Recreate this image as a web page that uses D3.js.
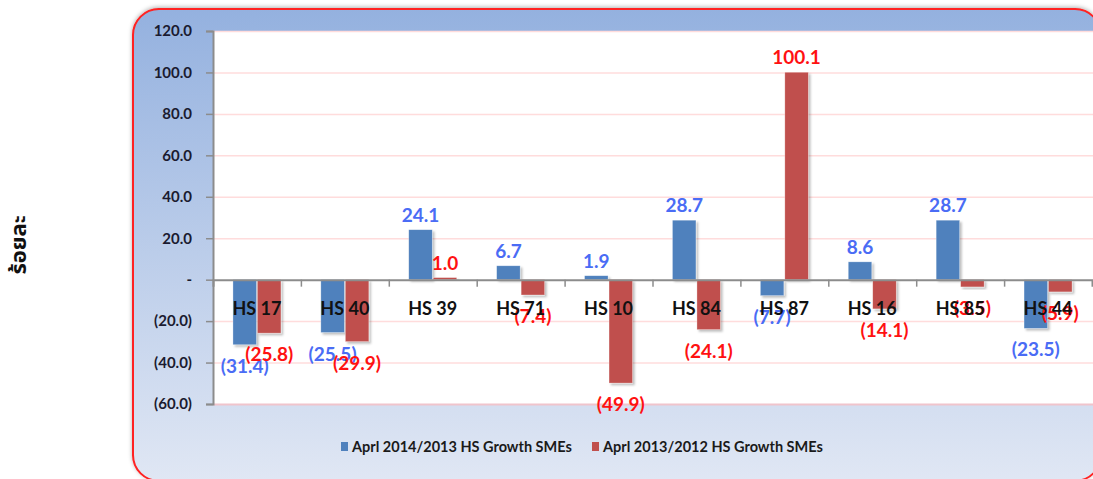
<!DOCTYPE html>
<html>
<head>
<meta charset="utf-8">
<script src="https://cdn.jsdelivr.net/npm/d3@7"></script>
<style>
  body { margin: 0; background: #fff; overflow: hidden; }
  svg { display: block; font-family: Lato, "Open Sans", sans-serif; }
</style>
</head>
<body>
<svg id="chart" width="1093" height="479"></svg>
<script>
// data
const categories = ["HS 17", "HS 40", "HS 39", "HS 71", "HS 10", "HS 84", "HS 87", "HS 16", "HS 85", "HS 44"];
const seriesNames = ["Aprl 2014/2013 HS Growth SMEs", "Aprl 2013/2012 HS Growth SMEs"];
const growth2014 = [-31.4, -25.5, 24.1, 6.7, 1.9, 28.7, -7.7, 8.6, 28.7, -23.5];
const growth2013 = [-25.8, -29.9, 1.0, -7.4, -49.9, -24.1, 100.1, -14.1, -3.5, -5.9];
const yTicks = [-60, -40, -20, 0, 20, 40, 60, 80, 100, 120];
const yTitle = "ร้อยละ";

const barColors = ["#4f81bd", "#c0504d"];
const labelColors = ["#4a6cf5", "#ff1111"];

const svg = d3.select("#chart");
const plot = { left: 213, right: 1092, top: 31, bottom: 404 };

const defs = svg.append("defs");
const grad = defs.append("linearGradient").attr("id", "bg").attr("x1", 0).attr("y1", 0).attr("x2", 0).attr("y2", 1);
grad.append("stop").attr("offset", "0%").attr("stop-color", "#94b1df");
grad.append("stop").attr("offset", "100%").attr("stop-color", "#e0e7f4");

const shadow = defs.append("filter").attr("id", "shadow").attr("x", "-20%").attr("y", "-20%").attr("width", "150%").attr("height", "150%");
shadow.append("feDropShadow").attr("dx", 2).attr("dy", 2).attr("stdDeviation", 1.2).attr("flood-color", "#000").attr("flood-opacity", 0.25);

const frameShadow = defs.append("filter").attr("id", "frameShadow").attr("x", "-5%").attr("y", "-5%").attr("width", "110%").attr("height", "110%");
frameShadow.append("feDropShadow").attr("dx", 0).attr("dy", -1).attr("stdDeviation", 2).attr("flood-color", "#000").attr("flood-opacity", 0.3);

// chart frame (runs past the right and bottom edge as in the source)
svg.append("rect")
  .attr("x", 133).attr("y", 9).attr("width", 968).attr("height", 472)
  .attr("rx", 26).attr("ry", 26)
  .attr("fill", "url(#bg)")
  .attr("stroke", "#ff2020").attr("stroke-width", 2)
  .attr("filter", "url(#frameShadow)");

// y title
svg.append("text")
  .attr("transform", "translate(26,245) rotate(-90)")
  .attr("text-anchor", "middle")
  .attr("font-family", "'Noto Sans Thai', 'Noto Sans', 'DejaVu Sans', sans-serif")
  .attr("font-size", 22).attr("font-weight", "bold").attr("fill", "#111")
  .text(yTitle);

const y = d3.scaleLinear().domain([-60, 120]).range([plot.bottom, plot.top]);
const x0 = d3.scaleBand().domain(categories).range([plot.left, plot.right]).padding(0);
const groupW = 48;
const x1 = d3.scaleBand().domain([0, 1]).range([0, groupW]).paddingInner(0.04);
const slot = d3.scaleLinear().domain([0, categories.length]).range([plot.left, plot.right]);

// plot area
svg.append("rect")
  .attr("x", plot.left).attr("y", plot.top)
  .attr("width", plot.right - plot.left + 2).attr("height", plot.bottom - plot.top)
  .attr("fill", "#fff");

// gridlines
svg.append("g").selectAll("line")
  .data(yTicks.filter((d) => d !== 0))
  .join("line")
  .attr("x1", plot.left).attr("x2", plot.right + 2)
  .attr("y1", (d) => y(d) + 0.5).attr("y2", (d) => y(d) + 0.5)
  .attr("stroke", (d) => (d === -60 ? "#f0c4cc" : "#ffdcdc"))
  .attr("stroke-width", (d) => (d === -60 ? 2 : 1.5));

function fmt(v) {
  if (v === 0) return "-";
  const s = Math.abs(v).toFixed(1);
  return v < 0 ? "(" + s + ")" : s;
}

// y axis
const yAxis = svg.append("g")
  .attr("transform", `translate(${plot.left},0)`)
  .call(d3.axisLeft(y).tickValues(yTicks).tickSize(7).tickPadding(14).tickFormat(fmt));
yAxis.select(".domain").attr("stroke", "#8c8c8c").attr("stroke-width", 2);
yAxis.selectAll(".tick line").attr("stroke", "#8c8c8c").attr("stroke-width", 1.5);
yAxis.selectAll(".tick text")
  .attr("font-family", "Lato, sans-serif").attr("font-size", 15).attr("font-weight", "bold")
  .attr("fill", "#1b1b30");

// bars
const rows = categories.map((c, i) => ({ cat: c, values: [growth2014[i], growth2013[i]] }));
const groups = svg.append("g").selectAll("g")
  .data(rows)
  .join("g")
  .attr("transform", (d) => `translate(${x0(d.cat) + (x0.bandwidth() - groupW) / 2},0)`);

groups.selectAll("rect")
  .data((d) => d.values.map((v, s) => ({ v, s })))
  .join("rect")
  .attr("x", (d) => x1(d.s))
  .attr("width", x1.bandwidth())
  .attr("y", (d) => y(Math.max(0, d.v)))
  .attr("height", (d) => Math.abs(y(d.v) - y(0)))
  .attr("fill", (d) => barColors[d.s])
  .attr("stroke", "#ffffff").attr("stroke-opacity", 0.5).attr("stroke-width", 0.6)
  .attr("filter", "url(#shadow)");

// zero axis with ticks at category boundaries
const xAxis = svg.append("g")
  .attr("transform", `translate(0,${y(0)})`)
  .call(d3.axisBottom(slot).tickValues(d3.range(1, categories.length)).tickSize(7).tickFormat(""));
xAxis.select(".domain").attr("stroke", "#8c8c8c").attr("stroke-width", 2);
xAxis.selectAll(".tick line").attr("stroke", "#8c8c8c").attr("stroke-width", 1.5);

// category labels
svg.append("g").selectAll("text")
  .data(categories)
  .join("text")
  .attr("x", (d) => x0(d) + x0.bandwidth() / 2)
  .attr("y", y(0) + 35)
  .attr("text-anchor", "middle")
  .attr("font-size", 18).attr("font-weight", "bold").attr("fill", "#111")
  .text((d) => d);

// data labels
groups.selectAll("text")
  .data((d) => d.values.map((v, s) => ({ v, s })))
  .join("text")
  .attr("x", (d) => x1(d.s) + x1.bandwidth() / 2)
  .attr("y", (d) => (d.v >= 0 ? y(d.v) - 8 : y(d.v) + 28))
  .attr("text-anchor", "middle")
  .attr("font-size", 19).attr("font-weight", "bold")
  .attr("fill", (d) => labelColors[d.s])
  .text((d) => fmt(d.v));

// legend
const legend = svg.append("g").attr("transform", "translate(341,447)");
const items = legend.selectAll("g")
  .data(seriesNames)
  .join("g")
  .attr("transform", (d, i) => `translate(${i * 251},0)`);
items.append("rect")
  .attr("x", 0).attr("y", -5).attr("width", 7).attr("height", 9)
  .attr("fill", (d, i) => barColors[i]);
items.append("text")
  .attr("x", 11).attr("y", 5)
  .attr("font-size", 14.5).attr("font-weight", "bold").attr("fill", "#1a1a1a")
  .text((d) => d);
</script>
</body>
</html>
